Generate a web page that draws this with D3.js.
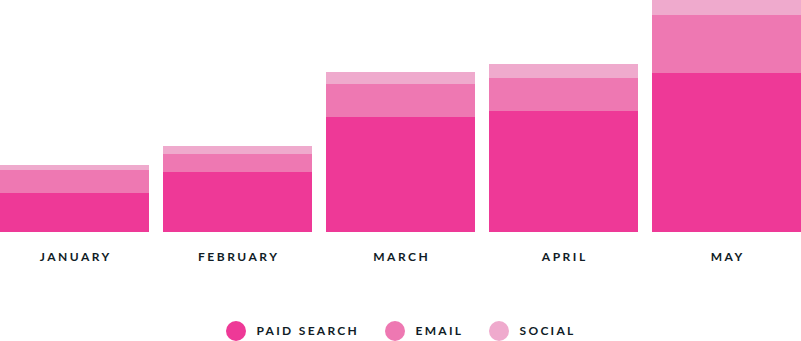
<!DOCTYPE html>
<html>
<head>
<meta charset="utf-8">
<script src="https://cdn.jsdelivr.net/npm/d3@7"></script>
<style>
	body { margin: 0; background: #fff; }
	text { font-family: "Lato", sans-serif; font-weight: 700; fill: #101c26; }
</style>
</head>
<body>
<div id="chart"></div>
<script>
// data
var months = ["JANUARY", "FEBRUARY", "MARCH", "APRIL", "MAY"];
var paidSearch = [39, 60, 115, 121, 159];
var email = [23, 18, 33, 33, 58];
var social = [5, 8, 12, 14, 15];
var seriesNames = ["PAID SEARCH", "EMAIL", "SOCIAL"];
var colors = ["#ee3997", "#ee78b2", "#efaacd"];

var width = 801, height = 341;
var baseline = 232;

var svg = d3.select("#chart")
	.append("svg")
	.attr("width", width)
	.attr("height", height);

// build rows for d3.stack
var rows = months.map(function(m, i) {
	return { month: m, paid: paidSearch[i], email: email[i], social: social[i] };
});
var keys = ["paid", "email", "social"];
var stacked = d3.stack().keys(keys)(rows);

var x = d3.scaleBand()
	.domain(months)
	.range([0, width])
	.paddingInner(14 / 163)
	.paddingOuter(0);

var y = d3.scaleLinear()
	.domain([0, d3.max(rows, function(d) { return d.paid + d.email + d.social; })])
	.range([baseline, 0]);

svg.selectAll("g.layer")
	.data(stacked)
	.enter()
	.append("g")
	.attr("class", "layer")
	.attr("fill", function(d, i) { return colors[i]; })
	.selectAll("rect")
	.data(function(d) { return d; })
	.enter()
	.append("rect")
	.attr("x", function(d) { return x(d.data.month); })
	.attr("width", x.bandwidth())
	.attr("y", function(d) { return y(d[1]); })
	.attr("height", function(d) { return y(d[0]) - y(d[1]); });

// month labels (axis without lines)
var xAxis = svg.append("g")
	.attr("transform", "translate(0," + baseline + ")")
	.call(d3.axisBottom(x).tickSize(0).tickPadding(20));
xAxis.select(".domain").remove();
xAxis.selectAll("text")
	.attr("font-family", "Lato, sans-serif")
	.attr("font-weight", 700)
	.attr("font-size", 12)
	.attr("fill", "#101c26")
	.style("letter-spacing", "2.5px")
	.attr("dx", "1.25px");

// legend
var legendX = [236, 395, 499];
var legend = svg.selectAll("g.legend")
	.data(seriesNames)
	.enter()
	.append("g")
	.attr("class", "legend")
	.attr("transform", function(d, i) { return "translate(" + legendX[i] + ",331)"; });

legend.append("circle")
	.attr("r", 10)
	.attr("fill", function(d, i) { return colors[i]; });

legend.append("text")
	.attr("x", 20.5)
	.attr("dy", "0.35em")
	.attr("font-size", 12)
	.style("letter-spacing", "2.3px")
	.text(function(d) { return d; });
</script>
</body>
</html>
